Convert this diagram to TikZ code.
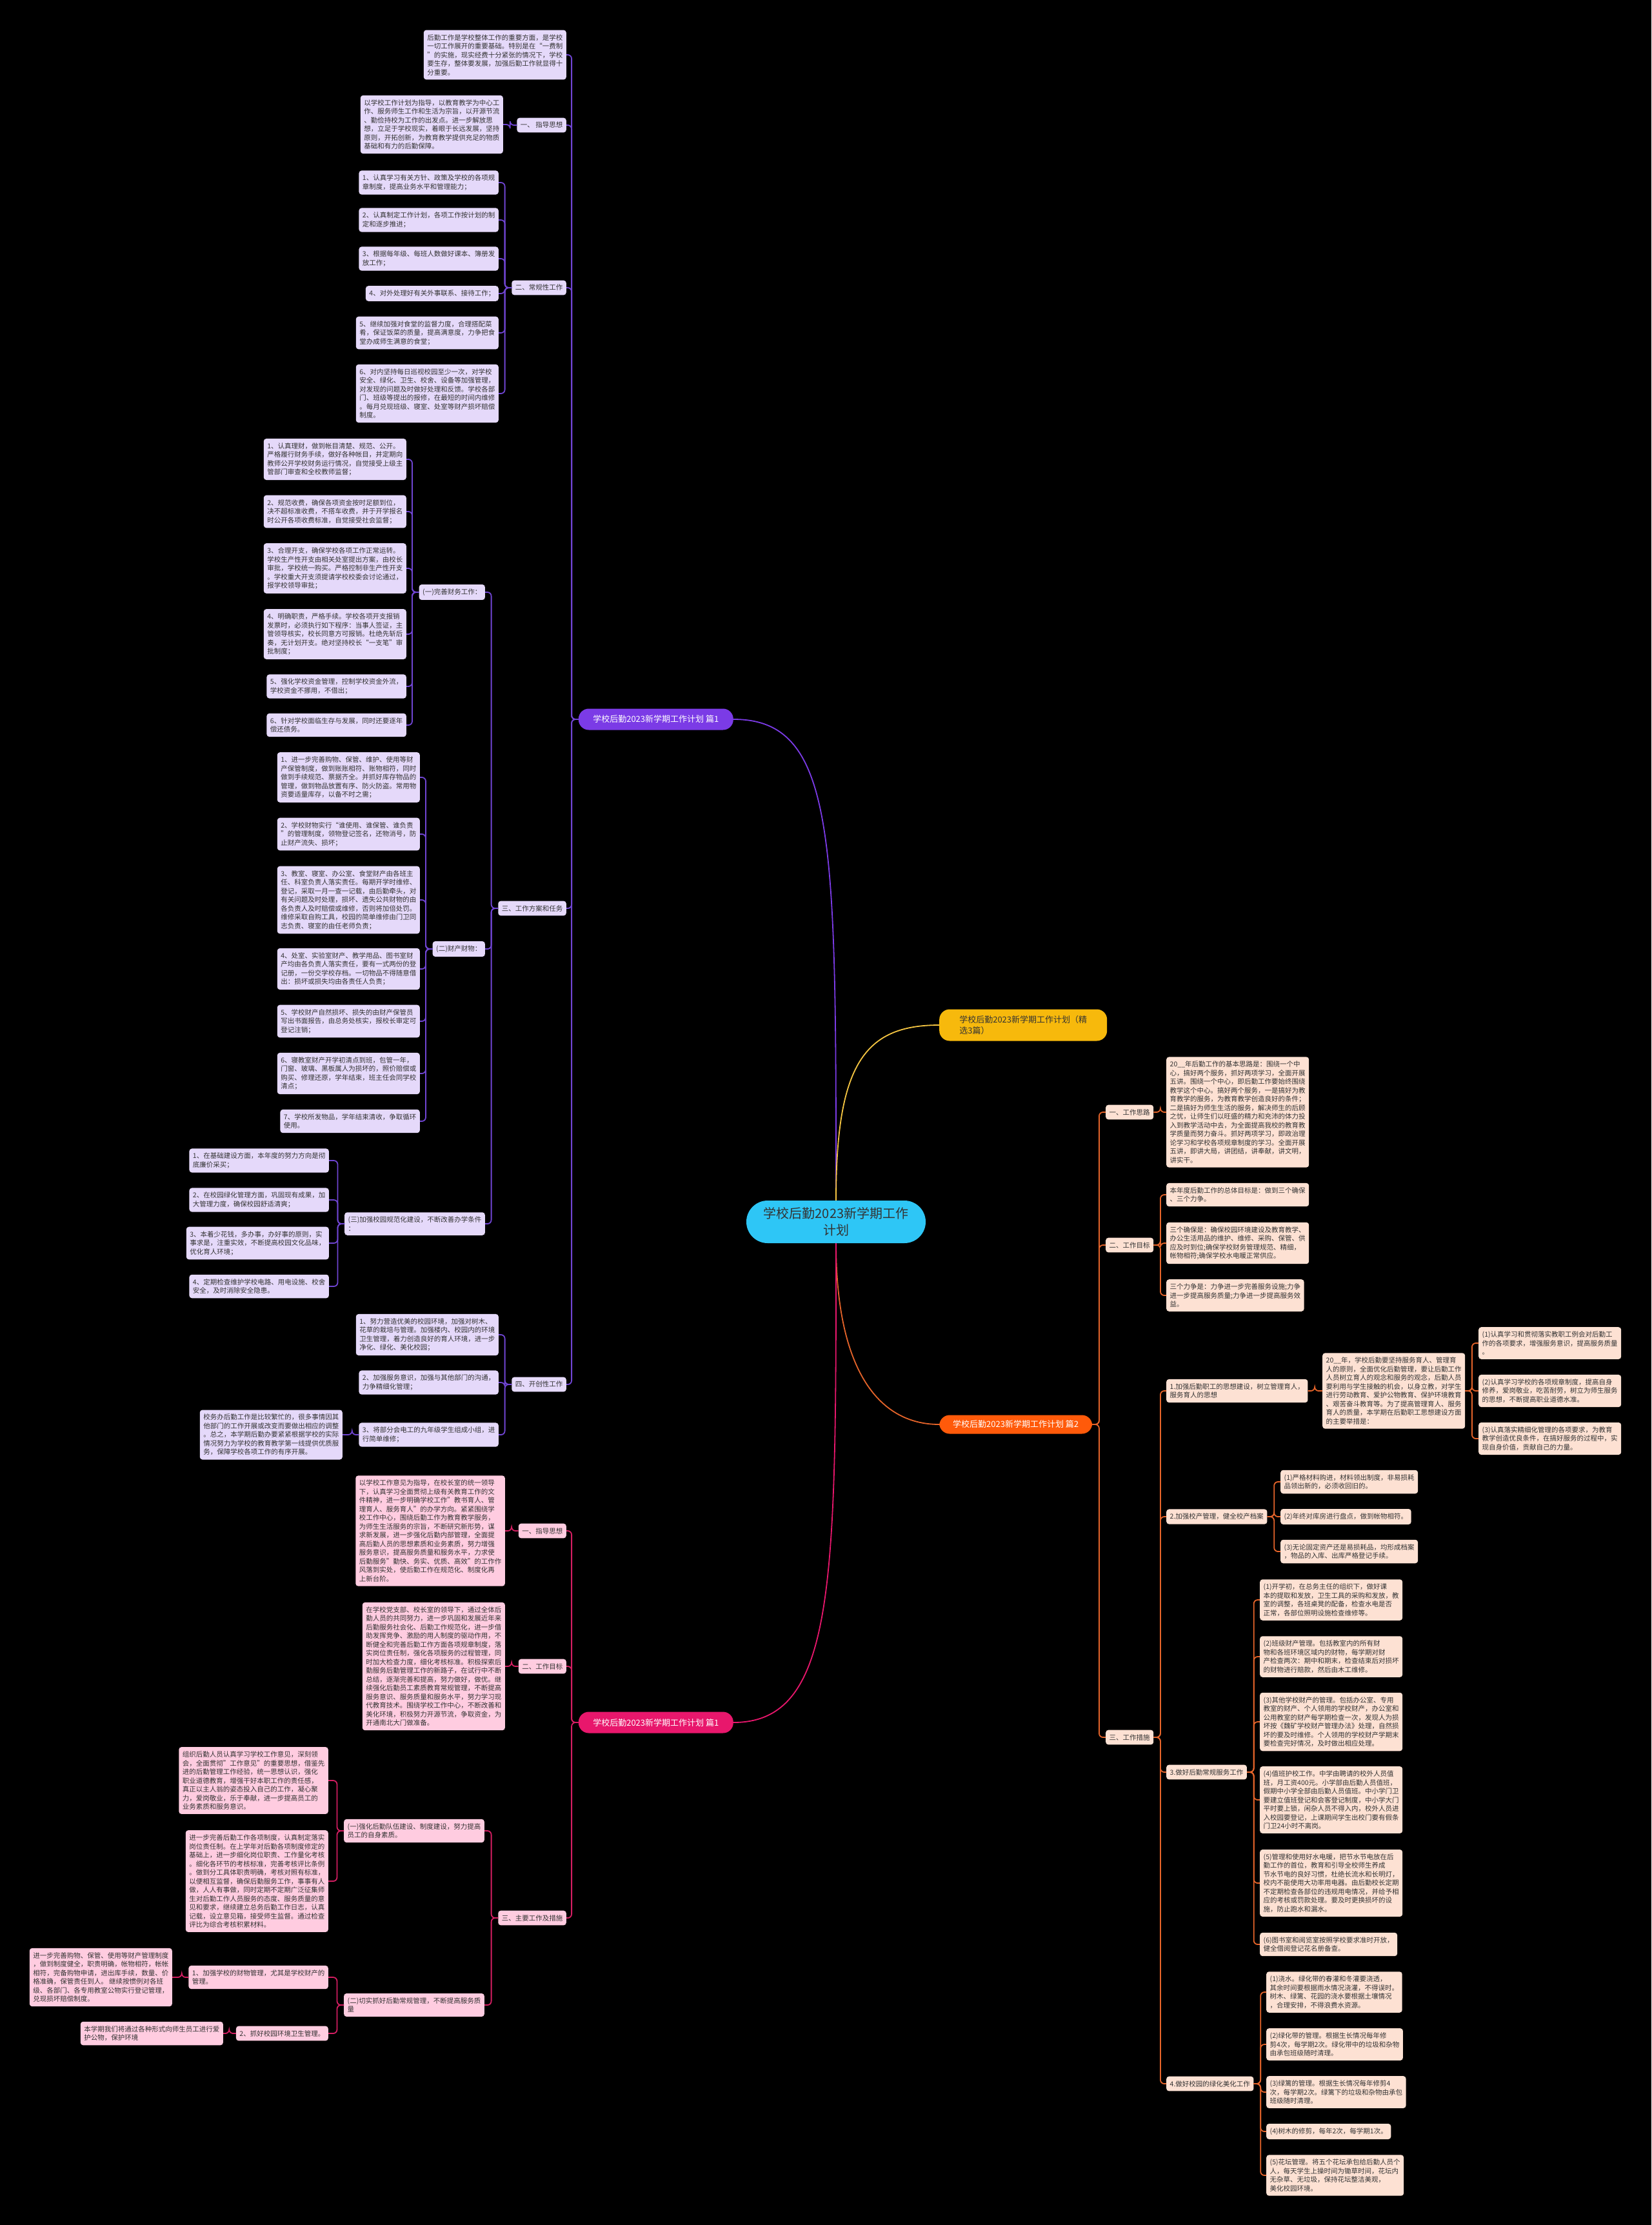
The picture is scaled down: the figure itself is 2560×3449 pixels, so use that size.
\documentclass[tikz,border=0pt]{standalone}
\usepackage{fontspec}
\setmainfont{Noto Sans CJK SC}
\definecolor{txt}{HTML}{333333}
\definecolor{plf}{HTML}{E5D9FA}
\definecolor{olf}{HTML}{FDE1D3}
\definecolor{klf}{HTML}{FFCCE0}
\definecolor{pln}{HTML}{7045D3}
\definecolor{oln}{HTML}{E5642A}
\definecolor{kln}{HTML}{D41E62}
\definecolor{yln}{HTML}{F5C542}
\definecolor{pbrf}{HTML}{7B3BE6}
\definecolor{obrf}{HTML}{FF5A0A}
\definecolor{kbrf}{HTML}{E8176C}
\definecolor{ybrf}{HTML}{F7B90C}
\definecolor{cenf}{HTML}{2EC6F6}
\newcommand\lcon[3]{\draw[#1] (#2.west) -- ++(-10.5,0) |- (#3.east);}
\newcommand\rcon[3]{\draw[#1] (#2.east) -- ++(10.5,0) |- (#3.west);}
\tikzset{
  leaf/.style={draw=none, rounded corners=4pt, align=left, inner xsep=5.5pt, inner ysep=6.5pt,
    font=\fontsize{10.5}{13.5}\selectfont, text=txt},
  pl/.style={leaf, fill=plf, anchor=east},
  kl/.style={leaf, fill=klf, anchor=east},
  ol/.style={leaf, fill=olf, anchor=west},
  brbox/.style={rounded corners=16pt, font=\fontsize{13}{16.5}\selectfont, inner xsep=20pt, inner ysep=9pt, text=white},
  pc/.style={draw=pln, line width=1.8pt, rounded corners=6pt},
  oc/.style={draw=oln, line width=1.8pt, rounded corners=6pt},
  kc/.style={draw=kln, line width=1.8pt, rounded corners=6pt},
}
\begin{document}
\begin{tikzpicture}[x=1pt,y=-1pt]
\fill[black] (0,0) rectangle (2560,3449);
\useasboundingbox (0,0) rectangle (2560,3449);

% ---------- center and branches ----------
\node[fill=cenf, rounded corners=33pt, align=center, font=\fontsize{20}{26}\selectfont, text=txt,
  minimum width=278pt, minimum height=66pt, inner sep=4pt] (C) at (1296,1894) {学校后勤2023新学期工作\\计划};
\node[brbox, fill=pbrf, anchor=east, minimum width=240pt, minimum height=33pt] (B1) at (1137,1115) {学校后勤2023新学期工作计划 篇1};
\node[brbox, fill=kbrf, anchor=east, minimum width=240pt, minimum height=33pt] (B4) at (1137,2670) {学校后勤2023新学期工作计划 篇1};
\node[brbox, fill=obrf, anchor=west, minimum width=237pt, minimum height=29pt, inner ysep=7pt] (B2) at (1456,2208) {学校后勤2023新学期工作计划 篇2};
\node[brbox, fill=ybrf, anchor=west, align=left, text=txt, minimum width=260pt, minimum height=49pt, inner xsep=25pt] (B3) at (1456,1589) {学校后勤2023新学期工作计划（精\\选3篇）};

\draw[draw=pbrf, line width=1.8pt] (C.north) .. controls (1296,1300) and (1296,1115) .. (B1.east);
\draw[draw=yln, line width=1.8pt] (C.north) .. controls (1296,1650) and (1340,1589) .. (B3.west);
\draw[draw=oln, line width=1.8pt] (C.south) .. controls (1296,2120) and (1360,2208) .. (B2.west);
\draw[draw=kbrf, line width=1.8pt] (C.south) .. controls (1296,2450) and (1296,2670) .. (B4.east);

% ---------- purple branch ----------
\node[pl] (P0) at (878,85) {后勤工作是学校整体工作的重要方面，是学校\\一切工作展开的重要基础。特别是在“一费制\\”的实施，现实经费十分紧张的情况下，学校\\要生存，整体要发展，加强后勤工作就显得十\\分重要。};
\node[pl] (P1) at (878,194) {一、 指导思想};
\node[pl] (P1a) at (780,193) {以学校工作计划为指导，以教育教学为中心工\\作、服务师生工作和生活为宗旨，以开源节流\\、勤俭持校为工作的出发点。进一步解放思\\想，立足于学校现实，着眼于长远发展，坚持\\原则，开拓创新，为教育教学提供充足的物质\\基础和有力的后勤保障。};
\node[pl] (P2) at (878,446) {二、常规性工作};
\node[pl] (P2a) at (773,283) {1、认真学习有关方针、政策及学校的各项规\\章制度，提高业务水平和管理能力；};
\node[pl] (P2b) at (773,341) {2、认真制定工作计划，各项工作按计划的制\\定和逐步推进；};
\node[pl] (P2c) at (773,401) {3、根据每年级、每班人数做好课本、簿册发\\放工作；};
\node[pl] (P2d) at (773,455) {4、对外处理好有关外事联系、接待工作；};
\node[pl] (P2e) at (773,516) {5、继续加强对食堂的监督力度，合理搭配菜\\肴，保证饭菜的质量，提高满意度，力争把食\\堂办成师生满意的食堂；};
\node[pl] (P2f) at (773,610) {6、对内坚持每日巡视校园至少一次，对学校\\安全、绿化、卫生、校舍、设备等加强管理，\\对发现的问题及时做好处理和反馈。学校各部\\门、班级等提出的报修，在最短的时间内维修\\。每月兑现班级、寝室、处室等财产损坏赔偿\\制度。};
\node[pl] (P3) at (878,1408) {三、工作方案和任务};
\node[pl] (P3A) at (752,918) {(一)完善财务工作：};
\node[pl] (P3A1) at (630,712) {1、认真理财，做到帐目清楚、规范、公开。\\严格履行财务手续，做好各种帐目，并定期向\\教师公开学校财务运行情况，自觉接受上级主\\管部门审查和全校教师监督；};
\node[pl] (P3A2) at (630,793) {2、规范收费，确保各项资金按时足额到位，\\决不超标准收费，不搭车收费，并于开学报名\\时公开各项收费标准，自觉接受社会监督；};
\node[pl] (P3A3) at (630,881) {3、合理开支，确保学校各项工作正常运转。\\学校生产性开支由相关处室提出方案，由校长\\审批，学校统一购买。严格控制非生产性开支\\。学校重大开支须提请学校校委会讨论通过，\\报学校领导审批；};
\node[pl] (P3A4) at (630,983) {4、明确职责，严格手续。学校各项开支报销\\发票时，必须执行如下程序：当事人签证，主\\管领导核实，校长同意方可报销。杜绝先斩后\\奏，无计划开支。绝对坚持校长“一支笔”审\\批制度；};
\node[pl] (P3A5) at (630,1064) {5、强化学校资金管理，控制学校资金外流，\\学校资金不挪用，不借出；};
\node[pl] (P3A6) at (630,1124) {6、针对学校面临生存与发展，同时还要逐年\\偿还债务。};
\node[pl] (P3B) at (752,1471) {(二)财产财物：};
\node[pl] (P3B1) at (651,1205) {1、进一步完善购物、保管、维护、使用等财\\产保管制度，做到账账相符、账物相符，同时\\做到手续规范、票据齐全。并抓好库存物品的\\管理，做到物品放置有序、防火防盗。常用物\\资要适量库存，以备不时之需；};
\node[pl] (P3B2) at (651,1293) {2、学校财物实行“谁使用、谁保管、谁负责\\”的管理制度，领物登记签名，还物消号，防\\止财产流失、损坏；};
\node[pl] (P3B3) at (651,1395) {3、教室、寝室、办公室、食堂财产由各班主\\任、科室负责人落实责任。每期开学时维修、\\登记，采取一月一查一记载，由后勤牵头，对\\有关问题及时处理，损坏、遗失公共财物的由\\各负责人及时赔偿或维修，否则将加倍处罚。\\维修采取自购工具，校园的简单维修由门卫同\\志负责、寝室的由任老师负责；};
\node[pl] (P3B4) at (651,1502) {4、处室、实验室财产、教学用品、图书室财\\产均由各负责人落实责任，要有一式两份的登\\记册，一份交学校存档。一切物品不得随意借\\出：损坏或损失均由各责任人负责；};
\node[pl] (P3B5) at (651,1583) {5、学校财产自然损坏、损失的由财产保管员\\写出书面报告，由总务处核实，报校长审定可\\登记注销；};
\node[pl] (P3B6) at (651,1664) {6、寝教室财产开学初清点到班，包管一年，\\门窗、玻璃、黑板属人为损坏的，照价赔偿或\\购买、修理还原，学年结束，班主任会同学校\\清点；};
\node[pl] (P3B7) at (651,1738) {7、学校所发物品，学年结束清收，争取循环\\使用。};
\node[pl] (P3C) at (752,1897) {(三)加强校园规范化建设，不断改善办学条件\\：};
\node[pl] (P3C1) at (510,1799) {1、在基础建设方面，本年度的努力方向是彻\\底廉价采买；};
\node[pl] (P3C2) at (510,1860) {2、在校园绿化管理方面，巩固现有成果，加\\大管理力度，确保校园舒适清爽；};
\node[pl] (P3C3) at (510,1927) {3、本着少花钱，多办事，办好事的原则，实\\事求是，注重实效，不断提高校园文化品味，\\优化育人环境；};
\node[pl] (P3C4) at (510,1994) {4、定期检查维护学校电路、用电设施、校舍\\安全，及时消除安全隐患。};
\node[pl] (P4) at (878,2146) {四、开创性工作};
\node[pl] (P4a) at (773,2069) {1、努力营造优美的校园环境，加强对树木、\\花草的栽培与管理。加强楼内、校园内的环境\\卫生管理，着力创造良好的育人环境，进一步\\净化、绿化、美化校园；};
\node[pl] (P4b) at (773,2143) {2、加强服务意识，加强与其他部门的沟通，\\力争精细化管理；};
\node[pl] (P4c) at (773,2224) {3、将部分会电工的九年级学生组成小组，进\\行简单维修；};
\node[pl] (P4d) at (531,2224) {校务办后勤工作是比较繁忙的，很多事情因其\\他部门的工作开展或改变而要做出相应的调整\\。总之，本学期后勤办要紧紧根据学校的实际\\情况努力为学校的教育教学第一线提供优质服\\务，保障学校各项工作的有序开展。};

\foreach \c in {P0,P1,P2,P3,P4} {\lcon{pc}{B1}{\c}}
\lcon{pc}{P1}{P1a}
\foreach \c in {P2a,P2b,P2c,P2d,P2e,P2f} {\lcon{pc}{P2}{\c}}
\foreach \c in {P3A,P3B,P3C} {\lcon{pc}{P3}{\c}}
\foreach \c in {P3A1,P3A2,P3A3,P3A4,P3A5,P3A6} {\lcon{pc}{P3A}{\c}}
\foreach \c in {P3B1,P3B2,P3B3,P3B4,P3B5,P3B6,P3B7} {\lcon{pc}{P3B}{\c}}
\foreach \c in {P3C1,P3C2,P3C3,P3C4} {\lcon{pc}{P3C}{\c}}
\foreach \c in {P4a,P4b,P4c} {\lcon{pc}{P4}{\c}}
\lcon{pc}{P4c}{P4d}

% ---------- pink branch ----------
\node[kl] (K1) at (878,2373) {一、指导思想};
\node[kl] (K1a) at (783,2373) {以学校工作意见为指导，在校长室的统一领导\\下，认真学习全面贯彻上级有关教育工作的文\\件精神，进一步明确学校工作"教书育人、管\\理育人、服务育人"的办学方向。紧紧围绕学\\校工作中心，围绕后勤工作为教育教学服务，\\为师生生活服务的宗旨，不断研究新形势，谋\\求新发展，进一步强化后勤内部管理，全面提\\高后勤人员的思想素质和业务素质，努力增强\\服务意识，提高服务质量和服务水平，力求使\\后勤服务"勤快、务实、优质、高效"的工作作\\风落到实处，使后勤工作在规范化、制度化再\\上新台阶。};
\node[kl] (K2) at (878,2583) {二、工作目标};
\node[kl] (K2a) at (783,2583) {在学校党支部、校长室的领导下，通过全体后\\勤人员的共同努力，进一步巩固和发展近年来\\后勤服务社会化、后勤工作规范化，进一步借\\助发挥竞争、激励的用人制度的驱动作用，不\\断健全和完善后勤工作方面各项规章制度，落\\实岗位责任制，强化各项服务的过程管理，同\\时加大检查力度，细化考核标准。积极探索后\\勤服务后勤管理工作的新路子，在试行中不断\\总结，逐渐完善和提高，努力做好，做优。继\\续强化后勤员工素质教育常规管理，不断提高\\服务意识、服务质量和服务水平，努力学习现\\代教育技术。围绕学校工作中心，不断改善和\\美化环境，积极努力开源节流，争取资金，为\\开通南北大门做准备。};
\node[kl] (K3) at (878,2973) {三、主要工作及措施};
\node[kl] (K3A) at (751,2838) {(一)强化后勤队伍建设、制度建设，努力提高\\员工的自身素质。};
\node[kl] (K3A1) at (509,2760) {组织后勤人员认真学习学校工作意见，深刻领\\会，全面贯彻"工作意见"的重要思想，借鉴先\\进的后勤管理工作经验，统一思想认识，强化\\职业道德教育，增强干好本职工作的责任感，\\真正以主人翁的姿态投入自己的工作，凝心聚\\力，爱岗敬业，乐于奉献，进一步提高员工的\\业务素质和服务意识。};
\node[kl] (K3A2) at (509,2916) {进一步完善后勤工作各项制度，认真制定落实\\岗位责任制。在上学年对后勤各项制度修定的\\基础上，进一步细化岗位职责、工作量化考核\\。细化各环节的考核标准，完善考核评比条例\\。做到分工具体职责明确，考核对照有标准，\\以便相互监督，确保后勤服务工作，事事有人\\做，人人有事做，同时定期不定期广泛征集师\\生对后勤工作人员服务的态度、服务质量的意\\见和要求，继续建立总务后勤工作日志，认真\\记载，设立意见箱，接受师生监督。通过检查\\评比为综合考核积累材料。};
\node[kl] (K3B) at (751,3108) {(二)切实抓好后勤常规管理，不断提高服务质\\量};
\node[kl] (K3B1) at (509,3065) {1、加强学校的财物管理，尤其是学校财产的\\管理。};
\node[kl] (K3B1a) at (267,3065) {进一步完善购物、保管、使用等财产管理制度\\，做到制度健全，职责明确，帐物相符，帐帐\\相符，完备购物申请，进出库手续，数量、价\\格准确，保管责任到人。 继续按惯例对各班\\级、各部门、各专用教室公物实行登记管理，\\兑现损坏赔偿制度。};
\node[kl] (K3B2) at (509,3152) {2、抓好校园环境卫生管理。};
\node[kl] (K3B2a) at (346,3152) {本学期我们将通过各种形式向师生员工进行爱\\护公物，保护环境};

\foreach \c in {K1,K2,K3} {\lcon{kc}{B4}{\c}}
\lcon{kc}{K1}{K1a}
\lcon{kc}{K2}{K2a}
\foreach \c in {K3A,K3B} {\lcon{kc}{K3}{\c}}
\foreach \c in {K3A1,K3A2} {\lcon{kc}{K3A}{\c}}
\foreach \c in {K3B1,K3B2} {\lcon{kc}{K3B}{\c}}
\lcon{kc}{K3B1}{K3B1a}
\lcon{kc}{K3B2}{K3B2a}

% ---------- orange branch ----------
\node[ol] (R1) at (1714,1724) {一、工作思路};
\node[ol] (R1a) at (1808,1724) {20\_\_年后勤工作的基本思路是：围绕一个中\\心，搞好两个服务，抓好两项学习，全面开展\\五讲。围绕一个中心，即后勤工作要始终围绕\\教学这个中心。搞好两个服务，一是搞好为教\\育教学的服务，为教育教学创造良好的条件；\\二是搞好为师生生活的服务，解决师生的后顾\\之忧，让师生们以旺盛的精力和充沛的体力投\\入到教学活动中去，为全面提高我校的教育教\\学质量而努力奋斗。抓好两项学习，即政治理\\论学习和学校各项规章制度的学习。全面开展\\五讲，即讲大局，讲团结，讲奉献，讲文明，\\讲实干。};
\node[ol] (R2) at (1714,1930) {二、工作目标};
\node[ol] (R2a) at (1808,1852) {本年度后勤工作的总体目标是：做到三个确保\\、三个力争。};
\node[ol] (R2b) at (1808,1927) {三个确保是：确保校园环境建设及教育教学、\\办公生活用品的维护、维修、采购、保管、供\\应及时到位;确保学校财务管理规范、精细，\\帐物相符;确保学校水电暖正常供应。};
\node[ol] (R2c) at (1808,2008) {三个力争是：力争进一步完善服务设施;力争\\进一步提高服务质量;力争进一步提高服务效\\益。};
\node[ol] (R3) at (1714,2693) {三、工作措施};
\node[ol] (R31) at (1808,2156) {1.加强后勤职工的思想建设，树立管理育人，\\服务育人的思想};
\node[ol] (R31a) at (2050,2156) {20\_\_年，学校后勤要坚持服务育人、管理育\\人的原则，全面优化后勤管理，要让后勤工作\\人员树立育人的观念和服务的观念，后勤人员\\要利用与学生接触的机会，以身立教，对学生\\进行劳动教育、爱护公物教育、保护环境教育\\、艰苦奋斗教育等。为了提高管理育人、服务\\育人的质量，本学期在后勤职工思想建设方面\\的主要举措是：};
\node[ol] (R31b) at (2292,2082) {(1)认真学习和贯彻落实教职工例会对后勤工\\作的各项要求，增强服务意识，提高服务质量\\。};
\node[ol] (R31c) at (2292,2156) {(2)认真学习学校的各项规章制度，提高自身\\修养，爱岗敬业，吃苦耐劳，树立为师生服务\\的思想，不断提高职业道德水准。};
\node[ol] (R31d) at (2292,2230) {(3)认真落实精细化管理的各项要求，为教育\\教学创造优良条件，在搞好服务的过程中，实\\现自身价值，贡献自己的力量。};
\node[ol] (R32) at (1808,2351) {2.加强校产管理，健全校产档案};
\node[ol] (R32a) at (1985,2297) {(1)严格材料购进，材料领出制度，非易损耗\\品领出新的，必须收回旧的。};
\node[ol] (R32b) at (1985,2351) {(2)年终对库房进行盘点，做到帐物相符。};
\node[ol] (R32c) at (1985,2405) {(3)无论固定资产还是易损耗品，均形成档案\\，物品的入库、出库严格登记手续。};
\node[ol] (R33) at (1808,2747) {3.做好后勤常规服务工作};
\node[ol] (R33a) at (1953,2480) {(1)开学初，在总务主任的组织下，做好课\\本的提取和发放，卫生工具的采购和发放，教\\室的调整，各班桌凳的配备，检查水电是否\\正常，各部位照明设施检查维修等。};
\node[ol] (R33b) at (1953,2568) {(2)班级财产管理。包括教室内的所有财\\物和各班环境区域内的财物，每学期对财\\产检查两次：期中和期末，检查结束后对损坏\\的财物进行赔款，然后由木工维修。};
\node[ol] (R33c) at (1953,2669) {(3)其他学校财产的管理。包括办公室、专用\\教室的财产、个人领用的学校财产，办公室和\\公用教室的财产每学期检查一次，发现人为损\\坏按《魏矿学校财产管理办法》处理，自然损\\坏的要及时维修。个人领用的学校财产学期末\\要检查完好情况，及时做出相应处理。};
\node[ol] (R33d) at (1953,2790) {(4)值班护校工作。中学由聘请的校外人员值\\班，月工资400元。小学部由后勤人员值班，\\假期中小学全部由后勤人员值班。中小学门卫\\要建立值班登记和会客登记制度，中小学大门\\平时要上锁，闲杂人员不得入内，校外人员进\\入校园要登记，上课期间学生出校门要有假条\\门卫24小时不离岗。};
\node[ol] (R33e) at (1953,2919) {(5)管理和使用好水电暖，把节水节电放在后\\勤工作的首位，教育和引导全校师生养成\\节水节电的良好习惯，杜绝长流水和长明灯，\\校内不能使用大功率用电器。由后勤校长定期\\不定期检查各部位的违规用电情况，并给予相\\应的考核或罚款处理。要及时更换损坏的设\\施，防止跑水和漏水。};
\node[ol] (R33f) at (1953,3014) {(6)图书室和阅览室按照学校要求准时开放，\\健全借阅登记花名册备查。};
\node[ol] (R34) at (1808,3230) {4.做好校园的绿化美化工作};
\node[ol] (R34a) at (1963,3088) {(1)浇水。绿化带的春灌和冬灌要浇透，\\其余时间要根据雨水情况浇灌，不得误时。\\树木、绿篱、花园的浇水要根据土壤情况\\，合理安排，不得浪费水资源。};
\node[ol] (R34b) at (1963,3169) {(2)绿化带的管理。根据生长情况每年修\\剪4次，每学期2次。绿化带中的垃圾和杂物\\由承包班级随时清理。};
\node[ol] (R34c) at (1963,3243) {(3)绿篱的管理。根据生长情况每年修剪4\\次，每学期2次。绿篱下的垃圾和杂物由承包\\班级随时清理。};
\node[ol] (R34d) at (1963,3304) {(4)树木的修剪，每年2次，每学期1次。};
\node[ol] (R34e) at (1963,3372) {(5)花坛管理。将五个花坛承包给后勤人员个\\人，每天学生上操时间为锄草时间，花坛内\\无杂草、无垃圾，保持花坛整洁美观，\\美化校园环境。};

\foreach \c in {R1,R2,R3} {\rcon{oc}{B2}{\c}}
\rcon{oc}{R1}{R1a}
\foreach \c in {R2a,R2b,R2c} {\rcon{oc}{R2}{\c}}
\foreach \c in {R31,R32,R33,R34} {\rcon{oc}{R3}{\c}}
\rcon{oc}{R31}{R31a}
\foreach \c in {R31b,R31c,R31d} {\rcon{oc}{R31a}{\c}}
\foreach \c in {R32a,R32b,R32c} {\rcon{oc}{R32}{\c}}
\foreach \c in {R33a,R33b,R33c,R33d,R33e,R33f} {\rcon{oc}{R33}{\c}}
\foreach \c in {R34a,R34b,R34c,R34d,R34e} {\rcon{oc}{R34}{\c}}
\end{tikzpicture}
\end{document}
